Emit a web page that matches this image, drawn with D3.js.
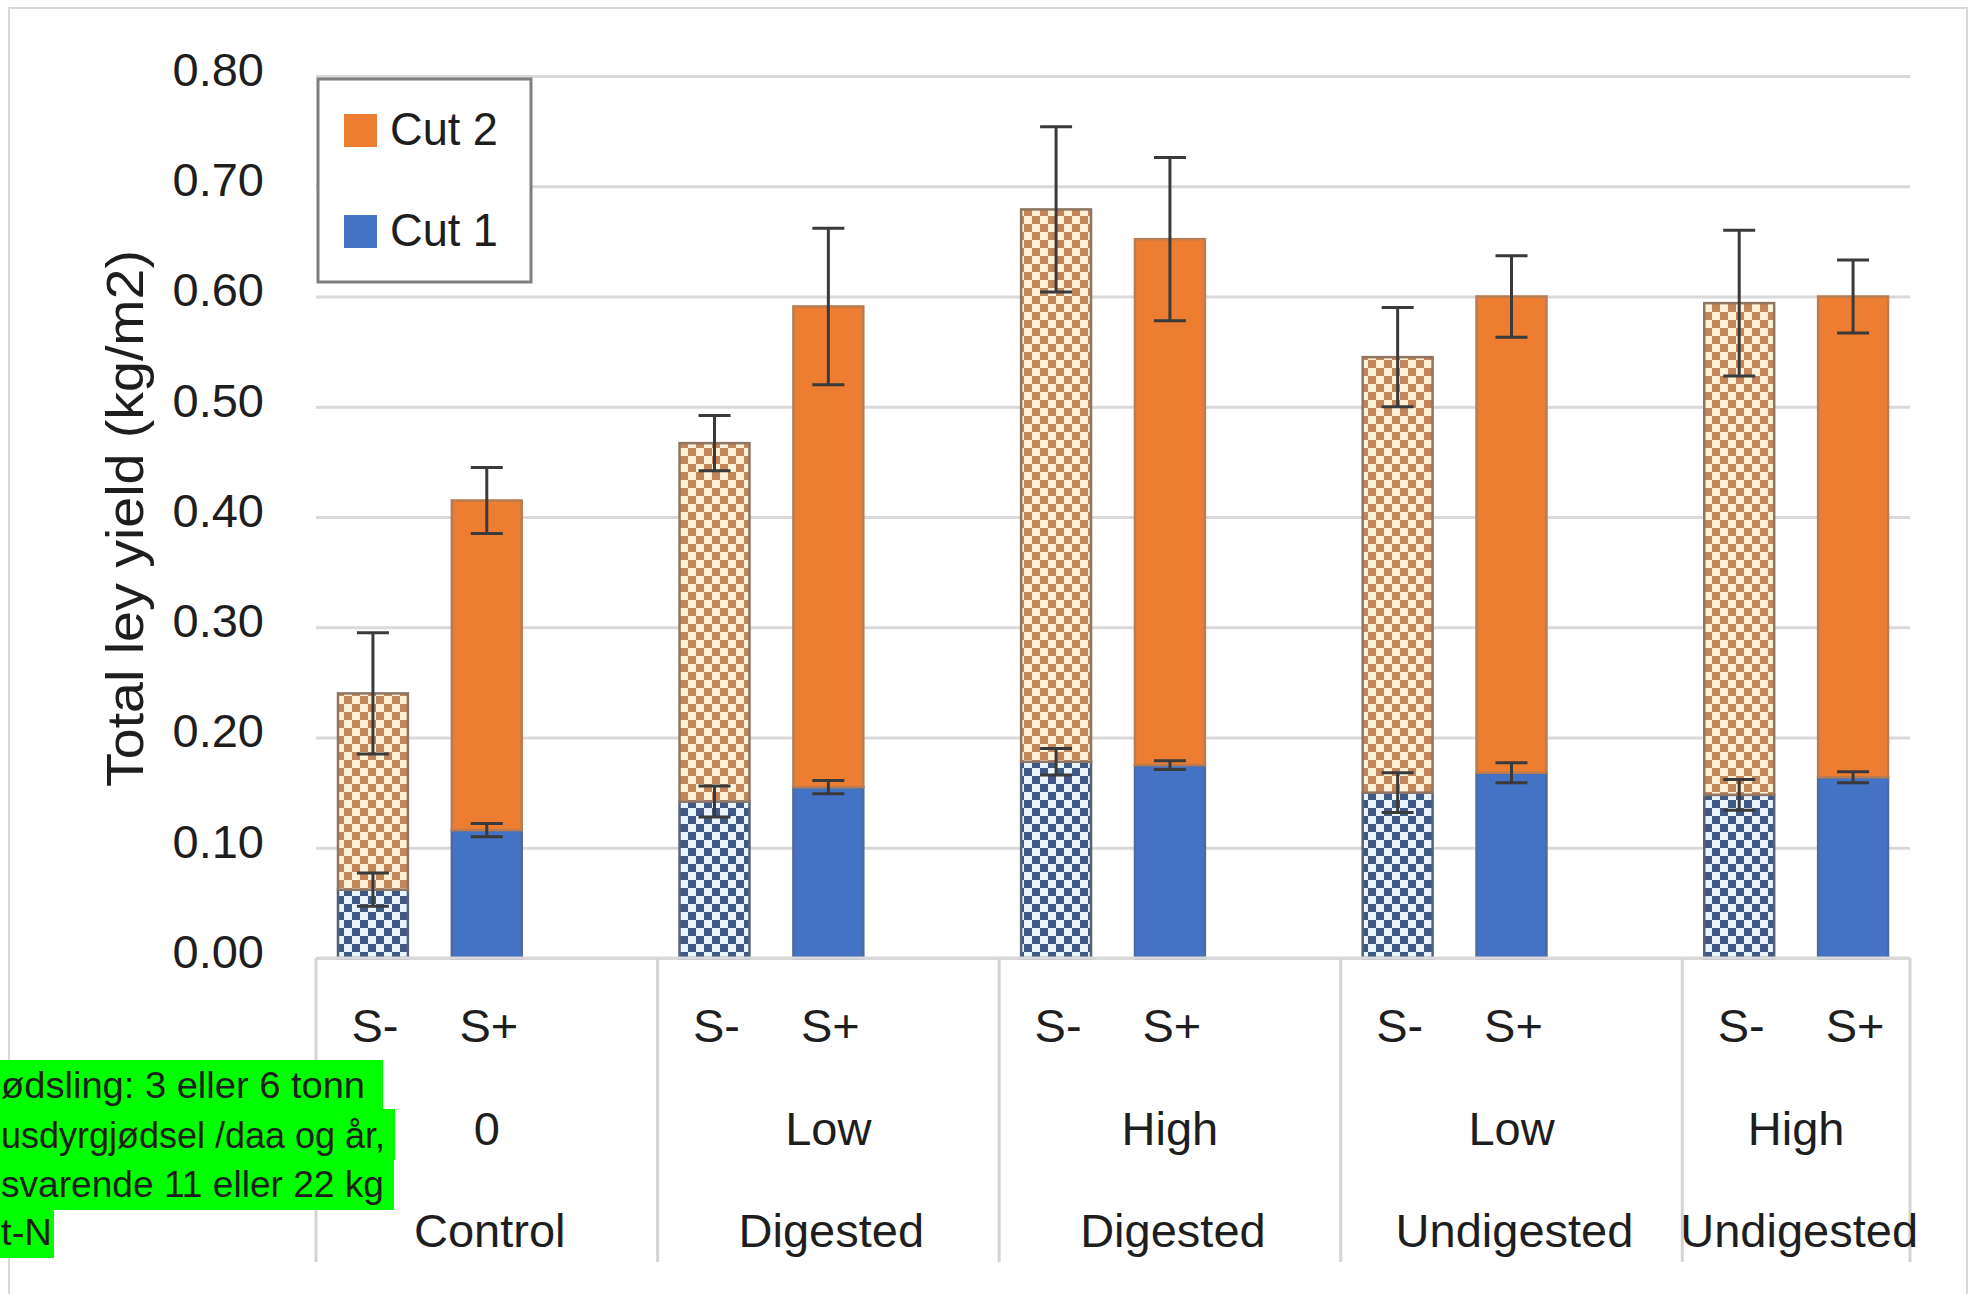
<!DOCTYPE html>
<html>
<head>
<meta charset="utf-8">
<script src="https://cdn.jsdelivr.net/npm/d3@7"></script>
<style>
  html, body { margin: 0; padding: 0; background: #ffffff; }
  svg { display: block; }
  text { font-family: "Liberation Sans", Arial, sans-serif; fill: #1e1e1e; }
</style>
</head>
<body>
<svg id="chart" width="1977" height="1294"></svg>
<script>
// ---------------- data ----------------
const groups      = ["Control", "Digested", "Digested", "Undigested", "Undigested"];
const levels      = ["0", "Low", "High", "Low", "High"];
const treatments  = ["S-", "S+"];
const seriesNames = ["Cut 1", "Cut 2"];
// one value per bar: Control S-, Control S+, Low Dig S-, Low Dig S+, High Dig S-, High Dig S+, Low Undig S-, Low Undig S+, High Undig S-, High Undig S+
const cut1    = [0.062, 0.116, 0.142, 0.155, 0.178, 0.175, 0.150, 0.168, 0.148, 0.164];
const cut2    = [0.178, 0.299, 0.325, 0.436, 0.501, 0.477, 0.395, 0.432, 0.446, 0.436];
const cut1Err = [0.015, 0.006, 0.014, 0.006, 0.012, 0.004, 0.018, 0.009, 0.014, 0.005];
const cut2Err = [0.055, 0.030, 0.025, 0.071, 0.075, 0.074, 0.045, 0.037, 0.066, 0.033];
const yTicks  = [0, 0.1, 0.2, 0.3, 0.4, 0.5, 0.6, 0.7, 0.8];
const yTitle  = "Total ley yield (kg/m2)";
const noteLines = ["ødsling: 3 eller 6 tonn", "usdyrgjødsel /daa og år,", "svarende 11 eller 22 kg", "t-N"];

// ---------------- layout ----------------
const svg = d3.select("#chart");
const W = 1977, H = 1294;
const plot = { left: 316, right: 1910, top: 76, bottom: 958 };

svg.append("rect").attr("width", W).attr("height", H).attr("fill", "#ffffff");
// outer chart frame
svg.append("rect").attr("x", 9).attr("y", 8).attr("width", 1958).attr("height", 1300)
  .attr("fill", "none").attr("stroke", "#d9d9d9").attr("stroke-width", 2);

// slots: each group gets S-, S+ and a blank spacer slot (except the last)
const slots = [];
groups.forEach((g, gi) => {
  treatments.forEach(t => slots.push(gi + "|" + t));
  if (gi < groups.length - 1) slots.push(gi + "|gap");
});

const x = d3.scaleBand().domain(slots).range([plot.left, plot.right])
  .paddingInner(0.386).paddingOuter(0.193);
const y = d3.scaleLinear().domain([0, 0.8]).range([plot.bottom, plot.top]);

const rows = cut1.map((v, i) => ({
  key: Math.floor(i / 2) + "|" + treatments[i % 2],
  cut1: v, cut2: cut2[i], e1: cut1Err[i], e2: cut2Err[i], hatched: i % 2 === 0
}));

// ---------------- patterns ----------------
const defs = svg.append("defs");
function checker(id, dark, light) {
  const p = defs.append("pattern").attr("id", id).attr("patternUnits", "userSpaceOnUse")
    .attr("width", 16).attr("height", 16);
  p.append("rect").attr("width", 16).attr("height", 16).attr("fill", light);
  p.append("rect").attr("width", 8).attr("height", 8).attr("fill", dark);
  p.append("rect").attr("x", 8).attr("y", 8).attr("width", 8).attr("height", 8).attr("fill", dark);
}
checker("chkOrange", "#c2865a", "#fff1d6");
checker("chkBlue", "#3f5884", "#eaf4ff");

const style = {
  cut1: { solid: "#4472c4", solidStroke: "#4f6a9c", pat: "url(#chkBlue)", patStroke: "#56627a" },
  cut2: { solid: "#ed7d31", solidStroke: "#b97c52", pat: "url(#chkOrange)", patStroke: "#8f7562" }
};

// ---------------- gridlines + y labels ----------------
const yAxis = d3.axisLeft(y).tickValues(yTicks).tickFormat(d3.format(".2f"))
  .tickSize(-(plot.right - plot.left)).tickPadding(52);
const gy = svg.append("g").attr("transform", `translate(${plot.left},0)`).call(yAxis);
gy.select(".domain").remove();
gy.selectAll(".tick line").attr("stroke", "#d9d9d9").attr("stroke-width", 3);
gy.selectAll(".tick text").attr("font-size", 47).attr("dy", "0.2em").attr("fill", "#1e1e1e")
  .style("font-family", '"Liberation Sans", Arial, sans-serif');

// y title
svg.append("text")
  .attr("transform", `translate(143, ${(787 + 250) / 2}) rotate(-90)`)
  .attr("text-anchor", "middle").attr("font-size", 52)
  .attr("textLength", 537).attr("lengthAdjust", "spacingAndGlyphs")
  .text(yTitle);

// ---------------- stacked bars ----------------
const stack = d3.stack().keys(["cut1", "cut2"]);
const stacked = stack(rows);
const gBars = svg.append("g");
stacked.forEach(layer => {
  const s = style[layer.key];
  gBars.selectAll(null).data(layer).enter().append("rect")
    .attr("x", d => x(d.data.key))
    .attr("width", x.bandwidth())
    .attr("y", d => y(d[1]))
    .attr("height", d => y(d[0]) - y(d[1]))
    .attr("fill", d => d.data.hatched ? s.pat : s.solid)
    .attr("stroke", d => d.data.hatched ? s.patStroke : s.solidStroke)
    .attr("stroke-width", 2.5);
});

// ---------------- error bars ----------------
const gErr = svg.append("g").attr("stroke", "#3a3a3a").attr("stroke-width", 3);
const capW = 32;
stacked.forEach(layer => {
  const eKey = layer.key === "cut1" ? "e1" : "e2";
  layer.forEach(d => {
    const cx = x(d.data.key) + x.bandwidth() / 2;
    const top = y(d[1] + d.data[eKey]);
    const bot = y(d[1] - d.data[eKey]);
    gErr.append("line").attr("x1", cx).attr("x2", cx).attr("y1", top).attr("y2", bot);
    gErr.append("line").attr("x1", cx - capW / 2).attr("x2", cx + capW / 2).attr("y1", top).attr("y2", top);
    gErr.append("line").attr("x1", cx - capW / 2).attr("x2", cx + capW / 2).attr("y1", bot).attr("y2", bot);
  });
});

// ---------------- category axis ----------------
const gx = svg.append("g");
gx.append("line").attr("x1", plot.left).attr("x2", plot.right)
  .attr("y1", plot.bottom).attr("y2", plot.bottom)
  .attr("stroke", "#d9d9d9").attr("stroke-width", 3);
const half = (x.step() - x.bandwidth()) / 2;
const groupStart = gi => x(gi + "|S-") - half;
const groupEnd = gi => gi < groups.length - 1 ? groupStart(gi + 1) : plot.right;
const bounds = groups.map((g, gi) => groupStart(gi)).concat([plot.right]);
gx.selectAll(null).data(bounds).enter().append("line")
  .attr("x1", d => d).attr("x2", d => d)
  .attr("y1", plot.bottom).attr("y2", 1262)
  .attr("stroke", "#d4d4d4").attr("stroke-width", 3);

gx.selectAll(null).data(rows).enter().append("text")
  .attr("x", d => x(d.key) + x.bandwidth() / 2 + 2).attr("y", 1042)
  .attr("text-anchor", "middle").attr("font-size", 47)
  .text(d => d.key.split("|")[1]);

gx.selectAll(null).data(levels).enter().append("text")
  .attr("x", (d, i) => (groupStart(i) + groupEnd(i)) / 2).attr("y", 1145)
  .attr("text-anchor", "middle").attr("font-size", 47)
  .text(d => d);

gx.selectAll(null).data(groups).enter().append("text")
  .attr("x", (d, i) => (groupStart(i) + groupEnd(i)) / 2 + 3).attr("y", 1247)
  .attr("text-anchor", "middle").attr("font-size", 47)
  .text(d => d);

// ---------------- legend ----------------
const lg = svg.append("g");
lg.append("rect").attr("x", 318).attr("y", 79).attr("width", 213).attr("height", 203)
  .attr("fill", "#ffffff").attr("stroke", "#7f7f7f").attr("stroke-width", 3);
const legendItems = [
  { name: seriesNames[1], color: style.cut2.solid, y: 114 },
  { name: seriesNames[0], color: style.cut1.solid, y: 215 }
];
legendItems.forEach(it => {
  lg.append("rect").attr("x", 344).attr("y", it.y).attr("width", 33).attr("height", 33)
    .attr("fill", it.color);
  lg.append("text").attr("x", 390).attr("y", it.y + 31).attr("font-size", 47)
    .attr("textLength", 108).attr("lengthAdjust", "spacingAndGlyphs").text(it.name);
});

// ---------------- green note ----------------
const noteBoxes = [
  { w: 383, y0: 1060, y1: 1110, base: 1098, tl: 364 },
  { w: 395, y0: 1109, y1: 1160, base: 1148, tl: 384 },
  { w: 394, y0: 1159, y1: 1210, base: 1197, tl: 383 },
  { w: 54,  y0: 1209, y1: 1258, base: 1245, tl: 51 }
];
const gn = svg.append("g");
noteLines.forEach((t, i) => {
  const b = noteBoxes[i];
  gn.append("rect").attr("x", 0).attr("y", b.y0).attr("width", b.w).attr("height", b.y1 - b.y0)
    .attr("fill", "#00ff00");
});
noteLines.forEach((t, i) => {
  const b = noteBoxes[i];
  gn.append("text").attr("x", 1).attr("y", b.base).attr("font-size", 36).attr("fill", "#000")
    .attr("textLength", b.tl).attr("lengthAdjust", "spacingAndGlyphs").text(t);
});
</script>
</body>
</html>
